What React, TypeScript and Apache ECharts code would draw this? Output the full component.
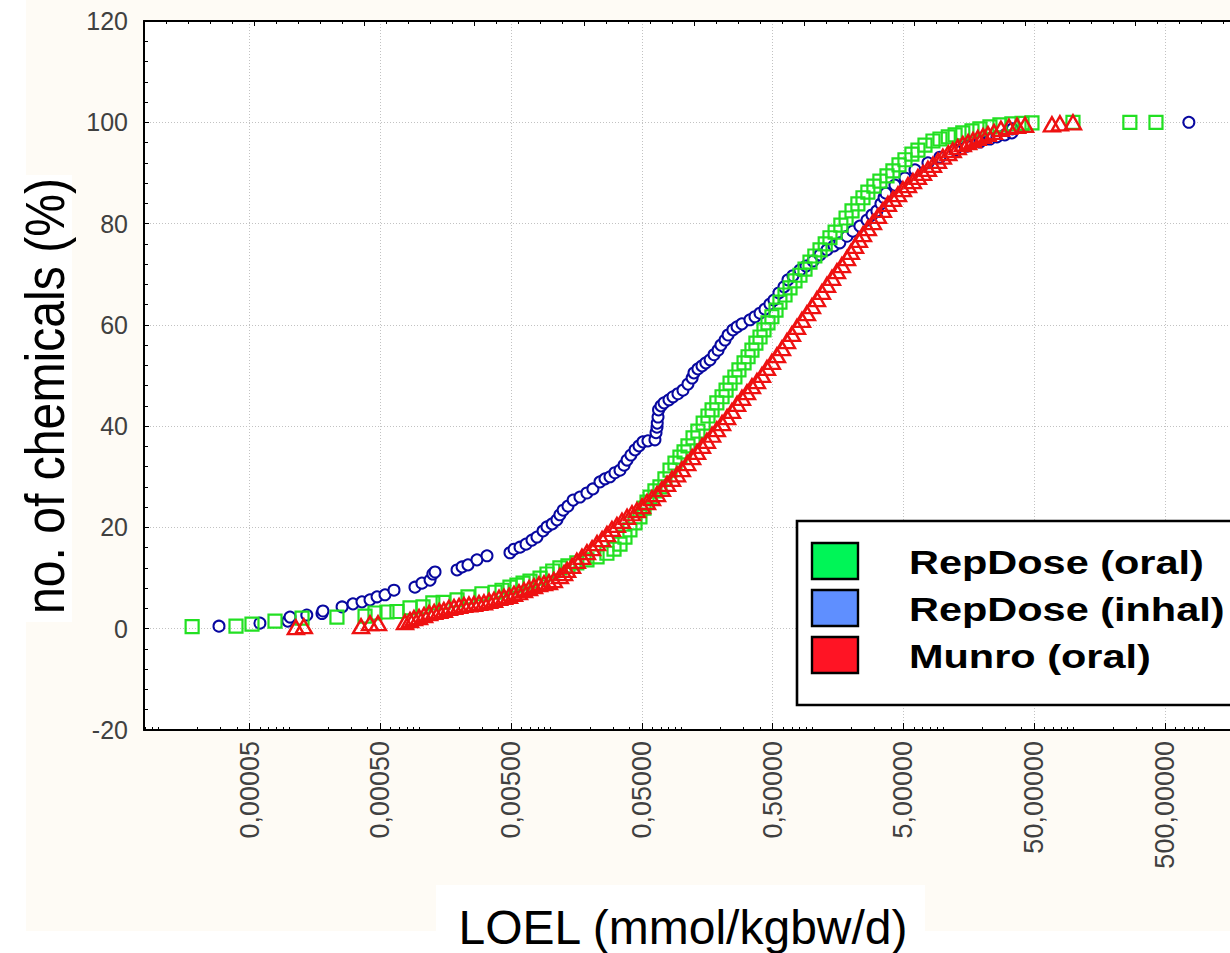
import React, { useEffect, useRef } from 'react';
import * as echarts from 'echarts';

// ---------------- data ----------------
const seriesNames = ['RepDose (oral)', 'RepDose (inhal)', 'Munro (oral)'];
const xAxisTitle = 'LOEL (mmol/kgbw/d)';
const yAxisTitle = 'no. of chemicals (%)';

// [LOEL (mmol/kg bw/d), cumulative % of chemicals]
const inhalPoints: [number, number][] = [
  [2.92e-5, 0.5], [6.0e-5, 1.1], [9.8e-5, 1.5], [1.02e-4, 2.3], [1.37e-4, 2.7], [1.79e-4, 3.0],
  [1.82e-4, 3.5], [2.55e-4, 4.3], [3.09e-4, 4.9], [3.62e-4, 5.3], [4.17e-4, 5.7], [4.72e-4, 6.3],
  [5.43e-4, 6.7], [6.36e-4, 7.6], [9.2e-4, 8.2], [1.04e-3, 9.0], [1.2e-3, 9.6], [1.26e-3, 10.8],
  [1.31e-3, 11.2], [1.93e-3, 11.6], [2.11e-3, 12.2], [2.34e-3, 12.6], [2.74e-3, 13.6], [3.27e-3, 14.4],
  [4.9e-3, 15.0], [5.26e-3, 15.7], [5.85e-3, 16.1], [6.5e-3, 16.7], [7.22e-3, 17.5], [7.88e-3, 18.1],
  [8.77e-3, 19.3], [9.4e-3, 20.1], [1.03e-2, 20.7], [1.12e-2, 21.5], [1.18e-2, 22.5], [1.25e-2, 23.4],
  [1.36e-2, 24.2], [1.49e-2, 25.4], [1.68e-2, 26.0], [1.9e-2, 26.8], [2.11e-2, 27.6], [2.39e-2, 29.0],
  [2.61e-2, 29.6], [2.85e-2, 30.0], [3.11e-2, 30.8], [3.4e-2, 31.3], [3.65e-2, 32.3], [3.85e-2, 33.3],
  [4.12e-2, 34.3], [4.43e-2, 35.3], [4.75e-2, 36.1], [5.09e-2, 36.9], [5.56e-2, 37.1], [6.29e-2, 37.3],
  [6.41e-2, 38.7], [6.52e-2, 39.8], [6.55e-2, 40.6], [6.64e-2, 41.8], [6.7e-2, 43.2], [7.0e-2, 44.0],
  [7.38e-2, 44.6], [8.05e-2, 45.2], [8.64e-2, 45.8], [9.43e-2, 46.4], [0.103, 47.1], [0.1125, 48.3],
  [0.121, 49.5], [0.125, 50.5], [0.134, 51.3], [0.144, 51.9], [0.154, 52.5], [0.166, 53.1],
  [0.178, 54.1], [0.191, 55.0], [0.201, 56.0], [0.216, 57.0], [0.228, 58.0], [0.248, 59.0],
  [0.267, 59.6], [0.291, 60.2], [0.335, 61.0], [0.366, 61.6], [0.4, 62.3], [0.436, 63.1],
  [0.476, 64.1], [0.511, 64.9], [0.558, 66.3], [0.61, 67.5], [0.654, 68.9], [0.714, 69.7],
  [0.808, 70.8], [0.898, 71.6], [1.016, 72.6], [1.149, 73.8], [1.3, 74.8], [1.47, 75.6],
  [1.63, 76.2], [1.85, 77.5], [2.05, 78.5], [2.32, 79.5], [2.63, 80.7], [2.87, 81.7],
  [3.13, 82.5], [3.36, 83.9], [3.55, 85.1], [3.67, 86.0], [4.3, 87.6], [5.13, 89.0],
  [6.12, 90.6], [7.69, 92.0], [9.5, 93.1], [12.4, 94.5], [15.3, 95.3], [19.2, 96.1],
  [22.9, 96.7], [25.9, 97.1], [29.8, 97.5], [33.7, 97.9], [34.0, 98.7], [760, 100],
];

const oralPoints: [number, number][] = [
  [1.82e-5, 0.4], [3.94e-5, 0.5], [5.22e-5, 0.9], [7.83e-5, 1.5], [1.26e-4, 2.1], [2.33e-4, 2.3],
  [3.82e-4, 2.5], [4.55e-4, 3.1], [5.62e-4, 3.3], [6.7e-4, 3.4], [8.43e-4, 4.1], [1.06e-3, 4.3],
  [1.26e-3, 5.1], [1.51e-3, 5.2], [1.93e-3, 5.7], [2.34e-3, 6.3], [2.99e-3, 6.9], [3.77e-3, 7.2],
  [4.26e-3, 7.6], [4.9e-3, 8.2], [5.54e-3, 8.6], [6.17e-3, 9.0], [6.97e-3, 9.4], [8.32e-3, 10.0],
  [9.4e-3, 10.8], [1.04e-2, 11.4], [1.18e-2, 12.0], [1.36e-2, 12.4], [1.59e-2, 13.0], [1.9e-2, 13.6],
  [2.27e-2, 14.2], [2.7e-2, 14.9], [3.06e-2, 15.7], [3.4e-2, 16.7], [3.71e-2, 18.1], [4.05e-2, 19.5],
  [4.43e-2, 20.9], [4.83e-2, 22.1], [5.19e-2, 23.8], [5.47e-2, 25.0], [5.77e-2, 26.0], [6.29e-2, 27.2],
  [6.87e-2, 28.0], [7.5e-2, 29.6], [8.2e-2, 31.3], [8.95e-2, 32.7], [9.77e-2, 33.9], [0.105, 34.9],
  [0.1125, 36.1], [0.123, 37.7], [0.134, 39.0], [0.147, 40.6], [0.16, 42.0], [0.172, 43.2],
  [0.187, 44.6], [0.205, 45.8], [0.22, 47.1], [0.236, 48.5], [0.257, 49.7], [0.276, 51.1],
  [0.302, 52.5], [0.324, 53.7], [0.347, 55.0], [0.372, 56.4], [0.4, 57.6], [0.429, 59.0],
  [0.46, 60.4], [0.493, 61.6], [0.53, 62.9], [0.568, 64.5], [0.621, 65.9], [0.678, 67.3],
  [0.74, 68.7], [0.808, 69.8], [0.883, 71.0], [0.964, 72.4], [1.05, 73.6], [1.15, 74.8],
  [1.26, 76.0], [1.37, 77.2], [1.5, 78.3], [1.66, 79.7], [1.82, 81.1], [2.02, 82.5],
  [2.24, 83.9], [2.45, 85.1], [2.67, 86.2], [2.97, 87.4], [3.3, 88.4], [3.74, 89.4],
  [4.15, 90.4], [4.62, 91.6], [5.13, 92.6], [5.8, 93.7], [6.45, 94.5], [7.3, 95.5],
  [8.4, 96.3], [9.5, 96.7], [11.0, 97.1], [12.4, 97.5], [14.2, 97.9], [16.7, 98.3],
  [19.2, 98.7], [22.9, 99.1], [27.3, 99.5], [33.7, 99.7], [40.3, 99.8], [48.0, 99.9],
  [98.8, 100], [269, 100], [426, 100],
];

const munroPoints: [number, number][] = [
  [1.13e-4, 0.3], [1.3e-4, 0.5], [3.56e-4, 0.5], [4.17e-4, 1.1], [4.8e-4, 1.1], [7.72e-4, 1.3],
  [8.43e-4, 1.7], [9.04e-4, 2.1], [9.88e-4, 2.3], [1.08e-3, 2.7], [1.18e-3, 3.1], [1.29e-3, 3.3],
  [1.41e-3, 3.5], [1.53e-3, 3.7], [1.67e-3, 4.1], [1.83e-3, 4.3], [2.0e-3, 4.5], [2.18e-3, 4.7],
  [2.38e-3, 4.8], [2.6e-3, 4.9], [2.84e-3, 5.1], [3.1e-3, 5.2], [3.39e-3, 5.5], [3.7e-3, 5.7],
  [4.04e-3, 6.1], [4.41e-3, 6.3], [4.82e-3, 6.5], [5.26e-3, 6.9], [5.74e-3, 7.2], [6.27e-3, 7.6],
  [6.85e-3, 8.0], [7.48e-3, 8.4], [8.17e-3, 8.8], [8.92e-3, 9.0], [9.73e-3, 9.2], [1.06e-2, 9.6],
  [1.18e-2, 10.4], [1.27e-2, 11.0], [1.34e-2, 11.6], [1.46e-2, 12.4], [1.59e-2, 13.4], [1.74e-2, 14.2],
  [1.9e-2, 15.1], [2.08e-2, 15.9], [2.27e-2, 16.9], [2.48e-2, 17.7], [2.7e-2, 18.7], [2.95e-2, 19.7],
  [3.22e-2, 20.5], [3.52e-2, 21.3], [3.85e-2, 22.1], [4.2e-2, 22.8], [4.58e-2, 23.4], [5.01e-2, 24.2],
  [5.47e-2, 25.0], [5.97e-2, 25.8], [6.52e-2, 26.6], [7.11e-2, 27.6], [7.78e-2, 28.6], [8.49e-2, 29.6],
  [9.27e-2, 30.5], [0.101, 31.5], [0.111, 32.7], [0.121, 33.9], [0.132, 34.9], [0.144, 36.1],
  [0.157, 37.1], [0.172, 38.3], [0.187, 39.4], [0.205, 40.6], [0.224, 41.8], [0.244, 43.0],
  [0.267, 44.4], [0.291, 45.6], [0.318, 46.7], [0.347, 47.9], [0.379, 48.9], [0.414, 50.1],
  [0.452, 51.5], [0.493, 52.7], [0.539, 54.0], [0.589, 55.4], [0.643, 56.8], [0.702, 58.2],
  [0.767, 59.6], [0.837, 61.0], [0.914, 62.3], [0.998, 63.7], [1.09, 65.1], [1.19, 66.5],
  [1.3, 67.9], [1.42, 69.3], [1.55, 70.6], [1.69, 71.8], [1.85, 73.2], [1.98, 74.4],
  [2.13, 75.6], [2.28, 76.8], [2.45, 77.9], [2.67, 79.1], [2.92, 80.3], [3.19, 81.5],
  [3.48, 82.7], [3.8, 83.9], [4.15, 84.9], [4.54, 85.8], [4.95, 86.8], [5.41, 87.6],
  [5.9, 88.4], [6.45, 89.2], [7.05, 90.0], [7.69, 90.8], [8.4, 91.6], [9.17, 92.4],
  [10.0, 93.2], [11.0, 93.9], [11.9, 94.5], [13.0, 95.1], [14.2, 95.7], [15.6, 96.1],
  [17.0, 96.5], [18.5, 96.9], [20.3, 97.3], [22.1, 97.7], [24.6, 98.1], [27.8, 98.7],
  [32.0, 99.1], [36.9, 99.3], [42.5, 99.5], [68.2, 99.6], [78.5, 99.8], [98.8, 100],
];

// axis ticks
const xTickValues = [0.00005, 0.0005, 0.005, 0.05, 0.5, 5, 50, 500];
const xMinorDecades = [1e-6, 1e-5, 1e-4, 1e-3, 1e-2, 1e-1, 1, 10, 100, 1000];
const xMinorMultipliers = [1, 2, 3, 4, 6, 7, 8, 9];
const X_MIN = 7.8e-6;
const X_MAX = 2042;
const Y_MIN = -20;
const Y_MAX = 120;
const Y_STEP = 20;

// ---------------- layout / style ----------------
const FONT = '"Liberation Sans", Arial, Helvetica, sans-serif';
const CHART_W = 1260;
const CHART_H = 953;
const PLOT_LEFT = 144;
const PLOT_RIGHT = 1245;
const PLOT_TOP = 21;
const PLOT_BOTTOM = 730;
const CREAM = '#fefbf5';
const GRID_COLOR = '#c2c2c2';

const lg = Math.log10;
const xMin = lg(X_MIN);
const xMax = lg(X_MAX);
const minorTickValues = xMinorDecades
  .flatMap((b) => xMinorMultipliers.map((m) => lg(m * b)))
  .filter((v) => v >= xMin && v <= xMax);

const toData = (pts: [number, number][]) => pts.map(([x, y]) => [lg(x), y]);

const legendItems = [
  { name: seriesNames[0], fill: '#00f557', y: 543 },
  { name: seriesNames[1], fill: '#5f8fff', y: 590 },
  { name: seriesNames[2], fill: '#ff1424', y: 637 },
];

function buildOption(): any {
  return {
    animation: false,
    backgroundColor: CREAM,
    grid: {
      left: PLOT_LEFT,
      right: CHART_W - PLOT_RIGHT,
      top: PLOT_TOP,
      bottom: CHART_H - PLOT_BOTTOM,
      show: true,
      backgroundColor: '#ffffff',
      borderWidth: 0,
    },
    xAxis: [
      {
        type: 'value',
        position: 'bottom',
        min: xMin,
        max: xMax,
        axisLine: { show: true, onZero: false, lineStyle: { color: '#000', width: 2 } },
        axisTick: {
          show: true,
          inside: true,
          length: 7,
          customValues: xTickValues.map(lg),
          lineStyle: { color: '#000', width: 1 },
        },
        axisLabel: {
          show: true,
          customValues: xTickValues.map(lg),
          rotate: 90,
          margin: 11,
          fontSize: 27,
          color: '#404040',
          fontFamily: FONT,
          formatter: (v: number) => Math.pow(10, v).toFixed(5).replace('.', ','),
        },
        splitLine: { show: true, lineStyle: { color: GRID_COLOR, type: [1, 2], width: 1 } },
      },
      {
        type: 'value',
        position: 'bottom',
        min: xMin,
        max: xMax,
        axisLine: { show: false, onZero: false },
        axisTick: {
          show: true,
          inside: true,
          length: 3,
          customValues: minorTickValues,
          lineStyle: { color: '#000', width: 1 },
        },
        axisLabel: { show: false },
        splitLine: { show: false },
      },
      {
        type: 'value',
        position: 'top',
        min: 0,
        max: 10,
        interval: 1,
        axisLine: { show: true, onZero: false, lineStyle: { color: '#000', width: 2 } },
        axisTick: { show: true, inside: true, length: 5, lineStyle: { color: '#000', width: 1 } },
        minorTick: { show: true, splitNumber: 5, length: 3, lineStyle: { color: '#000', width: 1 } },
        axisLabel: { show: false },
        splitLine: { show: false },
      },
    ],
    yAxis: [
      {
        type: 'value',
        min: Y_MIN,
        max: Y_MAX,
        interval: Y_STEP,
        axisLine: { show: true, onZero: false, lineStyle: { color: '#000', width: 2 } },
        axisTick: { show: true, inside: true, length: 5, lineStyle: { color: '#000', width: 1 } },
        minorTick: { show: true, splitNumber: 5, length: 4, lineStyle: { color: '#000', width: 1 } },
        axisLabel: { fontSize: 25, color: '#404040', margin: 16, fontFamily: FONT },
        splitLine: { show: true, lineStyle: { color: GRID_COLOR, type: [1, 2], width: 1 } },
      },
    ],
    series: [
      {
        type: 'scatter',
        name: seriesNames[1],
        silent: true,
        symbol: 'circle',
        symbolSize: 11,
        itemStyle: { color: '#ffffff', borderColor: '#0808a0', borderWidth: 2, opacity: 1 },
        data: toData(inhalPoints),
      },
      {
        type: 'scatter',
        name: seriesNames[0],
        silent: true,
        symbol: 'rect',
        symbolSize: 13,
        itemStyle: { color: 'rgba(255,255,255,0)', borderColor: '#22e022', borderWidth: 2.2, opacity: 1 },
        data: toData(oralPoints),
      },
      {
        type: 'scatter',
        name: seriesNames[2],
        silent: true,
        symbol: 'triangle',
        symbolSize: [16, 14],
        itemStyle: { color: 'rgba(255,255,255,0)', borderColor: '#ee1111', borderWidth: 2.4, opacity: 1 },
        data: toData(munroPoints),
      },
    ],
    graphic: [
      { type: 'rect', z: 1, shape: { x: 0, y: 0, width: 26, height: CHART_H }, style: { fill: '#ffffff' } },
      { type: 'rect', z: 1, shape: { x: 0, y: 931, width: CHART_W, height: 30 }, style: { fill: '#ffffff' } },
      { type: 'rect', z: 1, shape: { x: 0, y: 175, width: 72, height: 447 }, style: { fill: '#ffffff' } },
      { type: 'rect', z: 1, shape: { x: 436, y: 885, width: 489, height: 70 }, style: { fill: '#ffffff' } },
      {
        type: 'text',
        z: 2,
        x: 45,
        y: 396,
        rotation: Math.PI / 2,
        scaleX: 0.86,
        style: {
          text: yAxisTitle,
          fontSize: 56,
          fontFamily: FONT,
          fill: '#000',
          align: 'center',
          verticalAlign: 'middle',
        },
      },
      {
        type: 'text',
        z: 2,
        x: 683,
        y: 927,
        style: {
          text: xAxisTitle,
          fontSize: 48,
          fontFamily: FONT,
          fill: '#000',
          align: 'center',
          verticalAlign: 'middle',
        },
      },
      {
        type: 'group',
        z: 100,
        children: [
          {
            type: 'rect',
            z: 100,
            shape: { x: 797, y: 521, width: 470, height: 184 },
            style: { fill: '#ffffff', stroke: '#000', lineWidth: 2.6 },
          },
          ...legendItems.map((it) => ({
            type: 'rect',
            z: 101,
            shape: { x: 812, y: it.y, width: 46, height: 36 },
            style: { fill: it.fill, stroke: '#000', lineWidth: 2.4 },
          })),
          ...legendItems.map((it) => ({
            type: 'text',
            z: 101,
            x: 909,
            y: it.y + 19,
            scaleX: 1.22,
            style: {
              text: it.name,
              fontSize: 34,
              fontWeight: 'bold',
              fontFamily: FONT,
              fill: '#000',
              align: 'left',
              verticalAlign: 'middle',
            },
          })),
        ],
      },
    ],
  };
}

export default function App() {
  const ref = useRef<HTMLDivElement>(null);
  useEffect(() => {
    if (!ref.current) return;
    const chart = echarts.init(ref.current, null, { renderer: 'svg' });
    chart.setOption(buildOption());
    return () => {
      chart.dispose();
    };
  }, []);
  return (
    <div
      style={{
        position: 'fixed',
        left: 0,
        top: 0,
        width: 1230,
        height: 953,
        overflow: 'hidden',
        background: '#ffffff',
      }}
    >
      <div ref={ref} style={{ width: CHART_W, height: CHART_H }} />
    </div>
  );
}
